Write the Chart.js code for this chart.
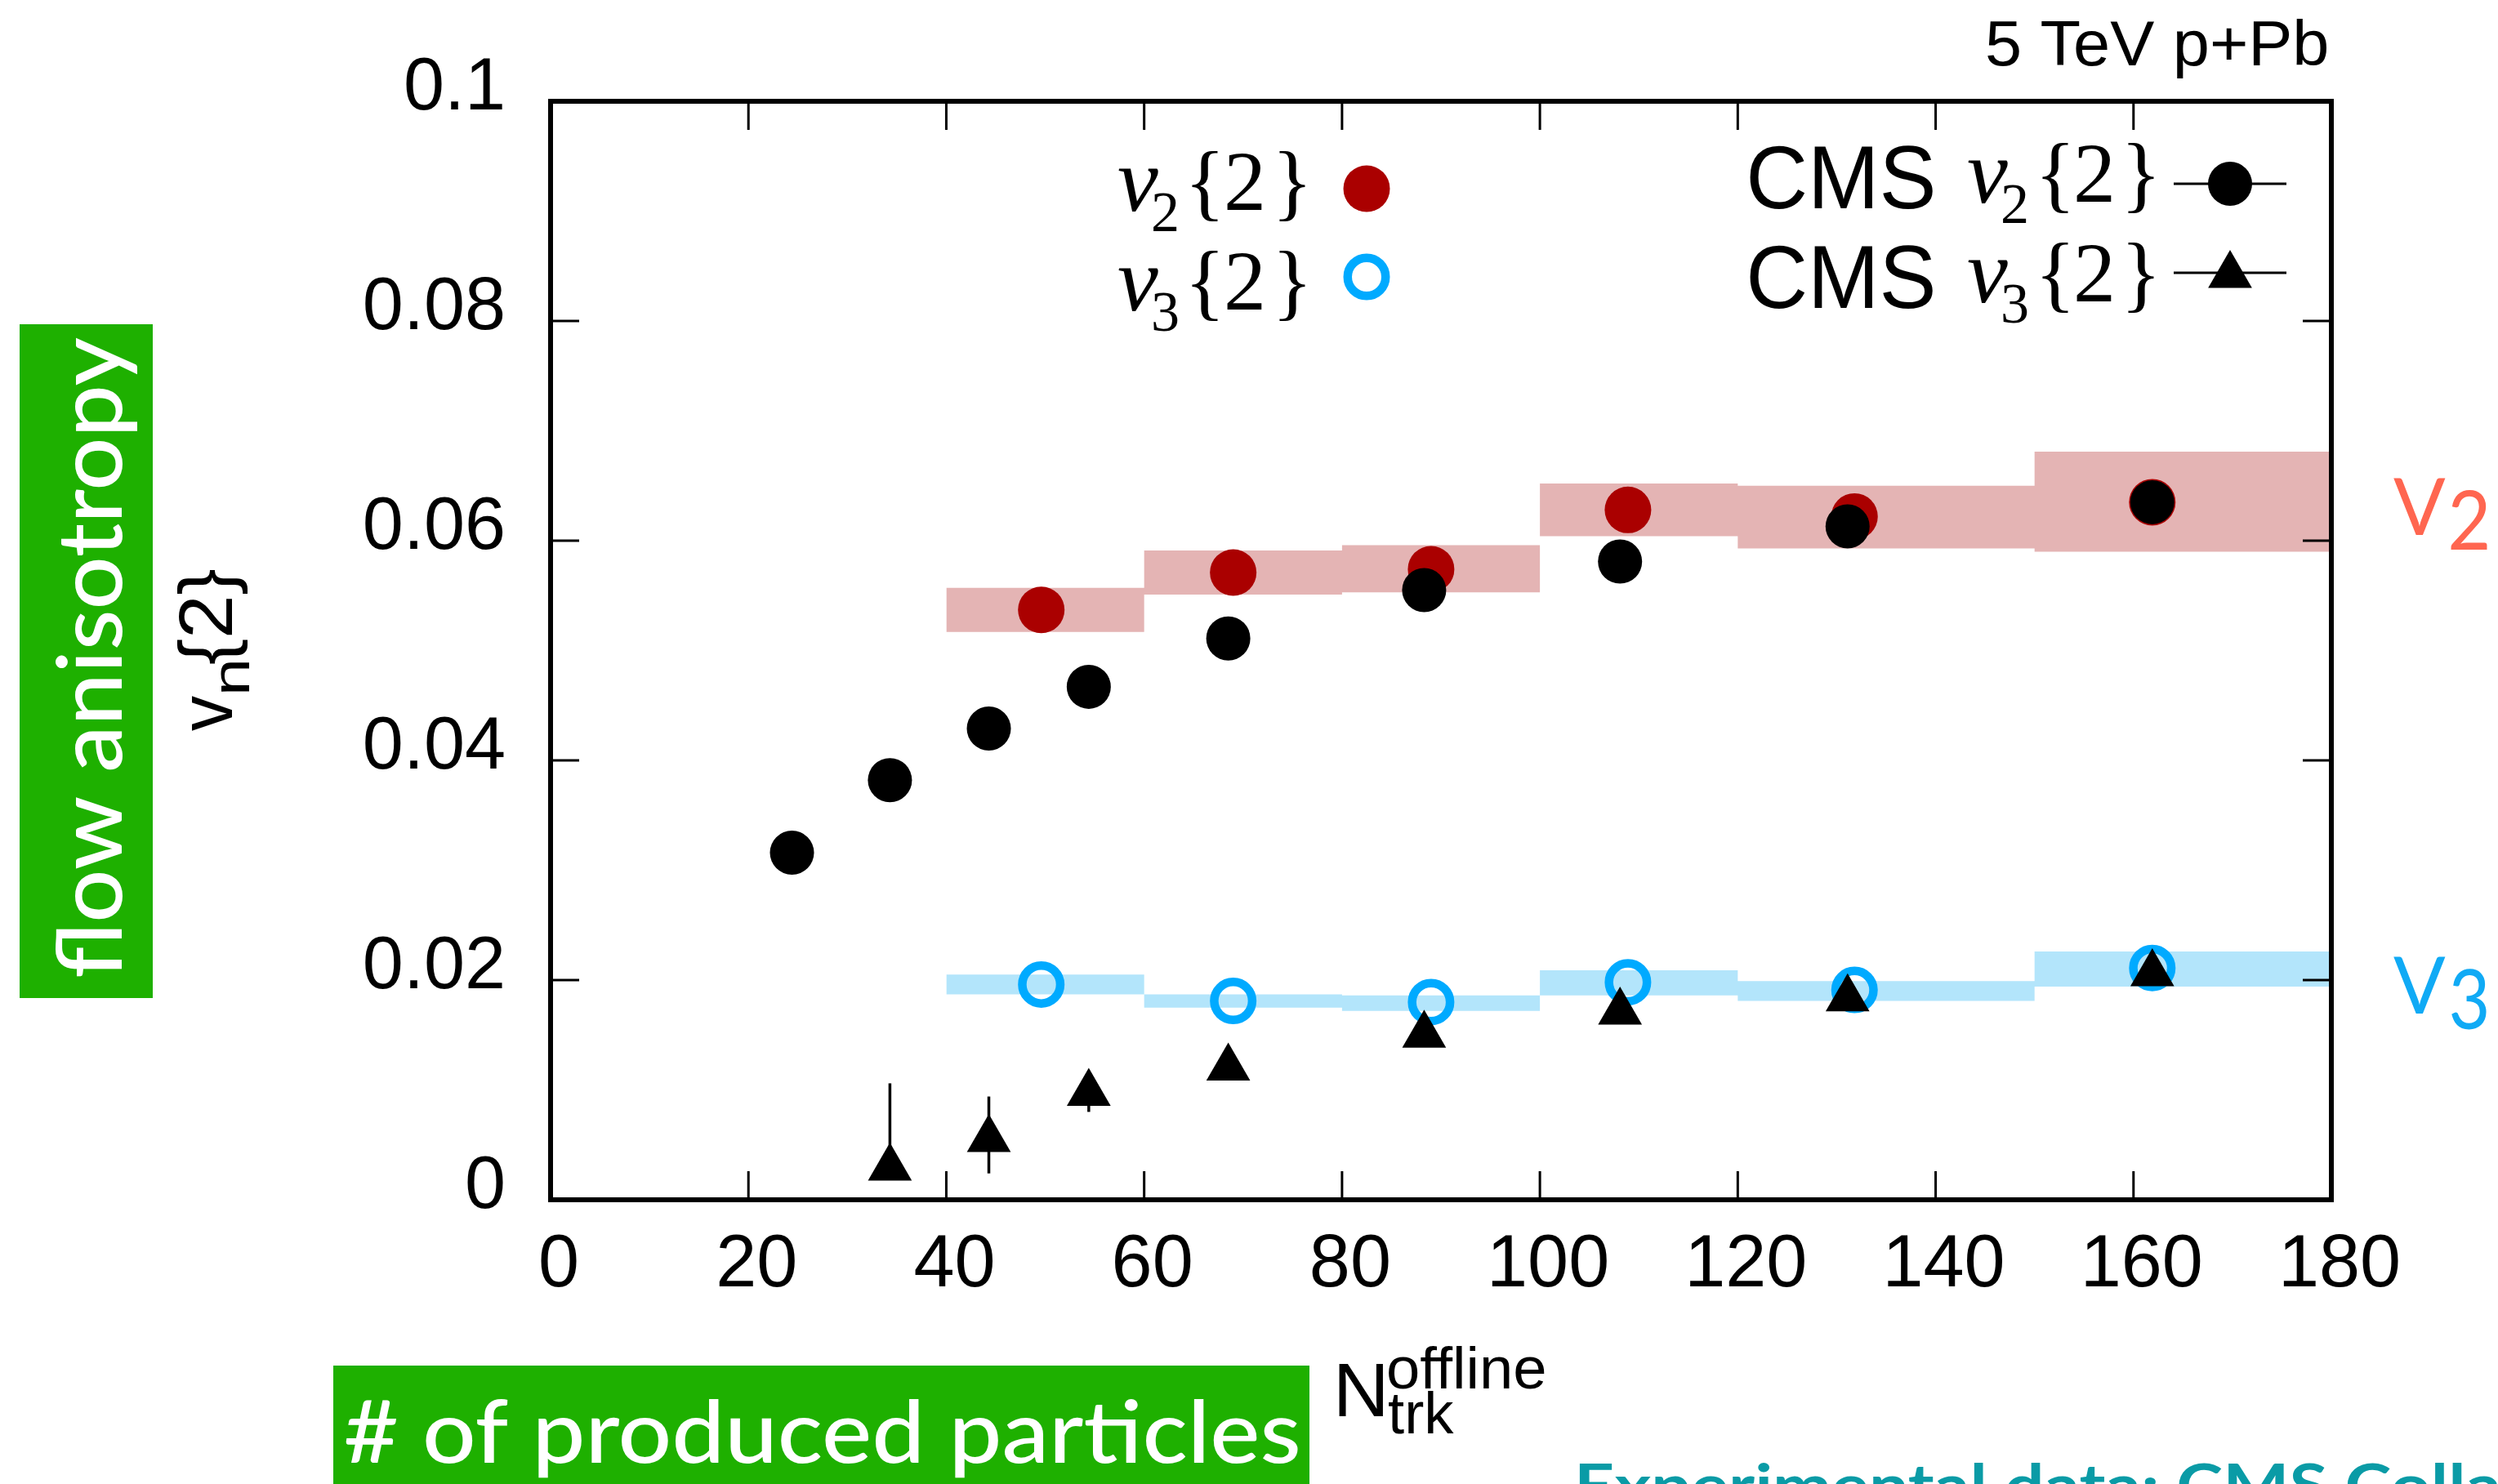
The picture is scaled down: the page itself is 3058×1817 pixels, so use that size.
<!DOCTYPE html>
<html>
<head>
<meta charset="utf-8">
<script src="https://cdn.jsdelivr.net/npm/chart.js@4.4.1/dist/chart.umd.min.js"></script>
<style>
  html, body { margin: 0; padding: 0; background: #fff; }
  #flowChart { display: block; }
</style>
</head>
<body>
<canvas id="flowChart" width="3058" height="1817"></canvas>
<script>
// N_trk^offline bin edges used by the model bands
const binEdges = [40, 60, 80, 100, 120, 150, 180];
const v2BandLow  = [0.0517, 0.0551, 0.0553, 0.0604, 0.0593, 0.0590];
const v2BandHigh = [0.0557, 0.0591, 0.0596, 0.0652, 0.0650, 0.0681];
const v3BandLow  = [0.0187, 0.0175, 0.0172, 0.0186, 0.0181, 0.0194];
const v3BandHigh = [0.0205, 0.0187, 0.0186, 0.0209, 0.0199, 0.0226];

// model points (mean multiplicity per bin)
const modelNtrk = [49.6, 69.0, 89.0, 108.9, 131.8, 161.9];
const modelV2   = [0.0537, 0.0571, 0.0574, 0.0628, 0.0622, 0.0635];
const modelV3   = [0.0196, 0.0181, 0.0180, 0.0198, 0.0191, 0.0211];

// CMS data
const cmsV2Ntrk = [24.4, 34.3, 44.3, 54.4, 68.5, 88.3, 108.1, 131.1, 161.9];
const cmsV2     = [0.0316, 0.0382, 0.0429, 0.0467, 0.0511, 0.0555, 0.0581, 0.0613, 0.0635];
const cmsV3Ntrk = [34.3, 44.3, 54.4, 68.5, 88.3, 108.1, 131.1, 161.9];
const cmsV3     = [0.0029, 0.0055, 0.0097, 0.0120, 0.0150, 0.0171, 0.0183, 0.0206];
const cmsV3ErrLow  = [0.0029, 0.0024, 0.0080, 0.0120, 0.0150, 0.0171, 0.0183, 0.0206];
const cmsV3ErrHigh = [0.0106, 0.0094, 0.0114, 0.0120, 0.0150, 0.0171, 0.0183, 0.0206];

const xTicks = [0, 20, 40, 60, 80, 100, 120, 140, 160, 180];
const xTickLabels = ['0', '20', '40', '60', '80', '100', '120', '140', '160', '180'];
const yTicks = [0, 0.02, 0.04, 0.06, 0.08, 0.1];
const yTickLabels = ['0', '0.02', '0.04', '0.06', '0.08', '0.1'];

const RED_BAND = '#e4b4b4';
const BLUE_BAND = '#b3e5fb';
const RED_DOT = '#aa0000';
const BLUE_RING = '#00aaff';
const GREEN = '#1eb000';

const SANS = "'Liberation Sans', Arial, sans-serif";
const SERIF = "'Liberation Serif', 'Times New Roman', serif";
const ROUND = "Lato, 'Noto Sans', sans-serif";

function pts(xs, ys) {
    return xs.map((x, i) => ({ x: x, y: ys[i] }));
}

// stepped edge: each bin value held until the next edge, last one carried to 180
function bandEdge(vals) {
    return binEdges.map((x, i) => ({ x: x, y: vals[Math.min(i, vals.length - 1)] }));
}

// draw text so that its ink starts at x (optionally stretched to a given ink width)
function inkText(ctx, text, x, y, font, color, width) {
    ctx.save();
    ctx.font = font;
    ctx.fillStyle = color;
    ctx.textAlign = 'left';
    ctx.textBaseline = 'alphabetic';
    const m = ctx.measureText(text);
    const ink = m.actualBoundingBoxLeft + m.actualBoundingBoxRight;
    const k = width ? width / ink : 1;
    ctx.translate(x, y);
    ctx.scale(k, 1);
    ctx.fillText(text, m.actualBoundingBoxLeft, 0);
    ctx.restore();
}

function circle(ctx, x, y, r, fill) {
    ctx.beginPath();
    ctx.arc(x, y, r, 0, Math.PI * 2);
    ctx.fillStyle = fill;
    ctx.fill();
}

function triangle(ctx, x, y, r) {
    const s = r * Math.sin(Math.PI / 3);
    ctx.beginPath();
    ctx.moveTo(x, y - r);
    ctx.lineTo(x + s, y + r / 2);
    ctx.lineTo(x - s, y + r / 2);
    ctx.closePath();
    ctx.fillStyle = '#000';
    ctx.fill();
}

const decorations = {
    id: 'decorations',
    afterDatasetsDraw(chart) {
        const ctx = chart.ctx;
        const xs = chart.scales.x;
        const ys = chart.scales.y;
        const a = chart.chartArea;

        // CMS v3 error bars
        ctx.save();
        ctx.strokeStyle = '#000';
        ctx.lineWidth = 3.5;
        cmsV3Ntrk.forEach((n, i) => {
            if (cmsV3ErrHigh[i] === cmsV3ErrLow[i]) return;
            const px = xs.getPixelForValue(n);
            ctx.beginPath();
            ctx.moveTo(px, ys.getPixelForValue(cmsV3ErrLow[i]));
            ctx.lineTo(px, ys.getPixelForValue(cmsV3ErrHigh[i]));
            ctx.stroke();
        });

        // inward ticks on all four sides
        const tl = 35;
        ctx.lineWidth = 3;
        xTicks.forEach(v => {
            const px = xs.getPixelForValue(v);
            ctx.beginPath();
            ctx.moveTo(px, a.bottom); ctx.lineTo(px, a.bottom - tl);
            ctx.moveTo(px, a.top); ctx.lineTo(px, a.top + tl);
            ctx.stroke();
        });
        yTicks.forEach(v => {
            const py = ys.getPixelForValue(v);
            ctx.beginPath();
            ctx.moveTo(a.left, py); ctx.lineTo(a.left + tl, py);
            ctx.moveTo(a.right, py); ctx.lineTo(a.right - tl, py);
            ctx.stroke();
        });

        // frame
        ctx.lineWidth = 6;
        ctx.strokeRect(a.left, a.top, a.right - a.left, a.bottom - a.top);
        ctx.restore();
    },
    afterDraw(chart) {
        const ctx = chart.ctx;

        // legend, model side
        const legendRows = [
            { sub: '2', dy: 0 },
            { sub: '3', dy: 122 }
        ];
        legendRows.forEach((row, i) => {
            const b = 257 + row.dy;
            inkText(ctx, 'v', 1369, b + 1, 'italic 112px ' + SERIF, '#000');
            inkText(ctx, row.sub, 1412, b + 26, '70px ' + SERIF, '#000');
            inkText(ctx, '{', 1459, b, '104px ' + SERIF, '#000');
            inkText(ctx, '2', 1502, b, '104px ' + SERIF, '#000');
            inkText(ctx, '}', 1566, b, '104px ' + SERIF, '#000');
        });
        circle(ctx, 1673, 231, 28.5, RED_DOT);
        ctx.save();
        ctx.beginPath();
        ctx.arc(1673, 339, 23.25, 0, Math.PI * 2);
        ctx.strokeStyle = BLUE_RING;
        ctx.lineWidth = 10.5;
        ctx.stroke();
        ctx.restore();

        // legend, CMS side
        legendRows.forEach((row, i) => {
            const b = 247 + row.dy;
            inkText(ctx, 'CMS', 2142, b + 8, '109px ' + SANS, '#000', 224);
            inkText(ctx, 'v', 2409, b + 1, 'italic 112px ' + SERIF, '#000');
            inkText(ctx, row.sub, 2452, b + 26, '70px ' + SERIF, '#000');
            inkText(ctx, '{', 2500, b, '104px ' + SERIF, '#000');
            inkText(ctx, '2', 2542, b, '104px ' + SERIF, '#000');
            inkText(ctx, '}', 2605, b, '104px ' + SERIF, '#000');
        });
        ctx.save();
        ctx.strokeStyle = '#000';
        ctx.lineWidth = 3;
        [225, 334].forEach(y => {
            ctx.beginPath();
            ctx.moveTo(2661, y);
            ctx.lineTo(2799, y);
            ctx.stroke();
        });
        ctx.restore();
        circle(ctx, 2730, 225, 27, '#000');
        triangle(ctx, 2730, 337, 31);

        // collision system
        inkText(ctx, '5 TeV p+Pb', 2433, 80, '78px ' + SANS, '#000', 416);

        // harmonic tags at the right edge
        inkText(ctx, 'V', 2930, 655, '97px ' + ROUND, '#ff6650', 64);
        inkText(ctx, '2', 3000, 673, '100px ' + ROUND, '#ff6650', 45);
        inkText(ctx, 'V', 2930, 1241, '97px ' + ROUND, '#10aaf5', 64);
        inkText(ctx, '3', 3001, 1260, '100px ' + ROUND, '#10aaf5', 43);

        // y title: green box + v_n{2}
        ctx.save();
        ctx.fillStyle = GREEN;
        ctx.fillRect(24, 397, 163, 825);
        ctx.translate(149, 1196);
        ctx.rotate(-Math.PI / 2);
        inkText(ctx, 'flow anisotropy', 0, 0, '500 110px ' + ROUND, '#fff', 783);
        ctx.restore();

        ctx.save();
        ctx.translate(284, 895);
        ctx.rotate(-Math.PI / 2);
        inkText(ctx, 'v', 0, 0, '92px ' + SANS, '#000', 43);
        inkText(ctx, 'n', 48, 21, '65px ' + SANS, '#000', 36);
        inkText(ctx, '{2}', 82, 0, '92px ' + SANS, '#000', 116);
        ctx.restore();

        // x title: green box + N_trk^offline
        ctx.save();
        ctx.fillStyle = GREEN;
        ctx.fillRect(408, 1672, 1195, 145);
        ctx.restore();
        inkText(ctx, '# of produced particles', 423, 1791, '500 107px ' + ROUND, '#fff', 1166);
        inkText(ctx, 'N', 1639, 1734, '92px ' + SANS, '#000', 54);
        inkText(ctx, 'offline', 1700, 1700, '73px ' + SANS, '#000', 191);
        inkText(ctx, 'trk', 1700, 1755, '73px ' + SANS, '#000', 80);

        // credit line running off the bottom edge
        ctx.save();
        ctx.font = 'bold 72px ' + ROUND;
        const part = ctx.measureText('Experimental data: CMS Colla');
        const k = 1125 / (part.actualBoundingBoxLeft + part.actualBoundingBoxRight);
        ctx.translate(1933, 1845);
        ctx.scale(k, 1);
        ctx.fillStyle = '#0a9ba6';
        ctx.fillText('Experimental data: CMS Collaboration', part.actualBoundingBoxLeft, 0);
        ctx.restore();
    }
};

const ctx = document.getElementById('flowChart').getContext('2d');

const chart = new Chart(ctx, {
    type: 'scatter',
    data: {
        datasets: [
            {
                label: 'CMS v2{2}',
                data: pts(cmsV2Ntrk, cmsV2),
                pointStyle: 'circle',
                pointRadius: 27,
                pointBorderWidth: 0,
                backgroundColor: '#000',
                borderColor: '#000',
                order: 1
            },
            {
                label: 'CMS v3{2}',
                data: pts(cmsV3Ntrk, cmsV3),
                pointStyle: 'triangle',
                pointRadius: 31,
                pointBorderWidth: 0,
                backgroundColor: '#000',
                borderColor: '#000',
                order: 1
            },
            {
                label: 'v2{2}',
                data: pts(modelNtrk, modelV2),
                pointStyle: 'circle',
                pointRadius: 28.5,
                pointBorderWidth: 0,
                backgroundColor: RED_DOT,
                borderColor: RED_DOT,
                order: 2
            },
            {
                label: 'v3{2}',
                data: pts(modelNtrk, modelV3),
                pointStyle: 'circle',
                pointRadius: 23.25,
                pointBorderWidth: 10.5,
                backgroundColor: 'rgba(0,0,0,0)',
                borderColor: BLUE_RING,
                order: 2
            },
            {
                label: 'v2 band high',
                type: 'line',
                data: bandEdge(v2BandHigh),
                stepped: true,
                borderWidth: 0,
                pointRadius: 0,
                fill: false,
                order: 3
            },
            {
                label: 'v2 band low',
                type: 'line',
                data: bandEdge(v2BandLow),
                stepped: true,
                borderWidth: 0,
                pointRadius: 0,
                backgroundColor: RED_BAND,
                fill: '-1',
                order: 3
            },
            {
                label: 'v3 band high',
                type: 'line',
                data: bandEdge(v3BandHigh),
                stepped: true,
                borderWidth: 0,
                pointRadius: 0,
                fill: false,
                order: 3
            },
            {
                label: 'v3 band low',
                type: 'line',
                data: bandEdge(v3BandLow),
                stepped: true,
                borderWidth: 0,
                pointRadius: 0,
                backgroundColor: BLUE_BAND,
                fill: '-1',
                order: 3
            }
        ]
    },
    options: {
        responsive: false,
        devicePixelRatio: 1,
        animation: false,
        layout: { padding: { left: 0, top: 124, right: 204, bottom: 0 } },
        plugins: {
            legend: { display: false },
            tooltip: { enabled: false }
        },
        scales: {
            x: {
                type: 'linear',
                min: 0,
                max: 180,
                afterFit: (scale) => { scale.height = 348; },
                afterBuildTicks: (scale) => { scale.ticks = xTicks.map(v => ({ value: v })); },
                grid: { display: false, drawTicks: false },
                border: { display: false },
                ticks: {
                    autoSkip: false,
                    maxRotation: 0,
                    padding: 27,
                    labelOffset: 10,
                    color: '#000',
                    font: { family: SANS, size: 90 },
                    callback: (v, i) => xTickLabels[i]
                }
            },
            y: {
                type: 'linear',
                min: 0,
                max: 0.1,
                afterFit: (scale) => { scale.width = 674; },
                afterBuildTicks: (scale) => { scale.ticks = yTicks.map(v => ({ value: v })); },
                grid: { display: false, drawTicks: false },
                border: { display: false },
                ticks: {
                    autoSkip: false,
                    padding: 55,
                    labelOffset: -15,
                    color: '#000',
                    font: { family: SANS, size: 90 },
                    callback: (v, i) => yTickLabels[i]
                }
            }
        }
    },
    plugins: [decorations]
});
</script>
</body>
</html>
